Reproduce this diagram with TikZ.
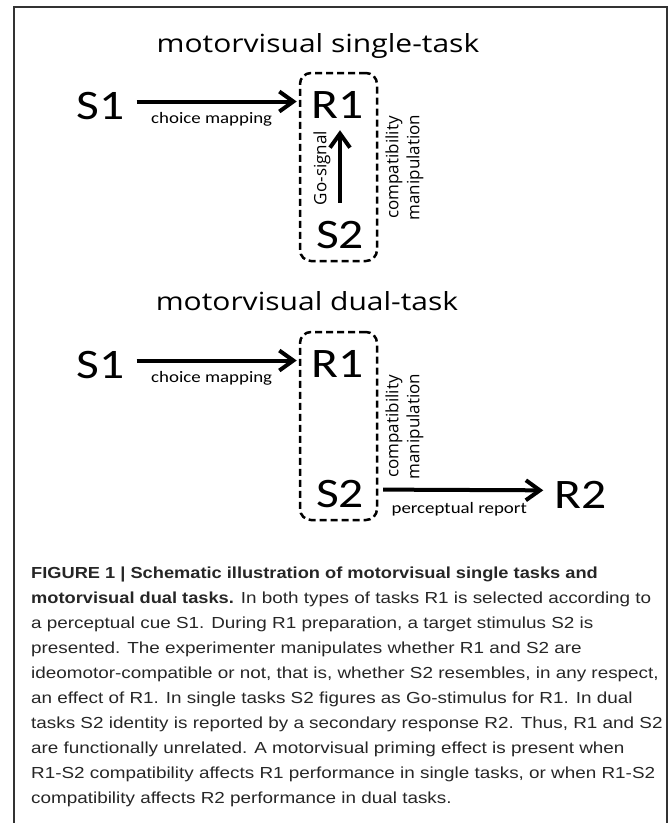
\documentclass[tikz,border=0pt]{standalone}
\usepackage{fontspec}
\setmainfont[FakeStretch=1.18]{Liberation Sans}
\newfontfamily\capbf[FakeStretch=1.14]{Liberation Sans Bold}
\newfontfamily\calib[FakeStretch=1.18]{Carlito}
\newfontfamily\segoe[FakeStretch=1.2]{Open Sans}
\newfontfamily\segoerot{Open Sans}
\usetikzlibrary{arrows.meta}

\begin{document}
\begin{tikzpicture}[x=1pt,y=-1pt,
  sym/.style={font=\calib\fontsize{42}{42}\selectfont,inner sep=0pt,anchor=base},
  lab/.style={font=\calib\fontsize{16}{16}\selectfont,inner sep=0pt},
  head/.style={font=\segoe\fontsize{25}{25}\selectfont,inner sep=0pt,anchor=base},
  side/.style={font=\segoerot\fontsize{17}{21}\selectfont,rotate=90,align=center,inner sep=0pt},
  link/.style={line width=4pt,-{Straight Barb[length=14pt,width=20pt]}},
  group/.style={draw,line width=2.5pt,dash pattern=on 7pt off 4pt,rounded corners=11pt,minimum width=77pt,minimum height=188pt}]
\useasboundingbox (0,0) rectangle (671,823);
\draw[line width=1.5pt,black!80] (14,823) -- (14,7) -- (667,7) -- (667,823); % frame
% single task
\node[head] (ttla) at (318,52) {motorvisual single-task};
\node[group] (boxa) at (338.5,167) {};
\node[sym] (s1a) at (100.5,119) {S1};
\node[sym] (r1a) at (337.5,118) {R1};
\node[sym] (s2a) at (340,248) {S2};
\draw[link,shorten <=12pt,shorten >=2pt] ([yshift=4pt]s1a.east) -- ([yshift=4pt]s1a.east -| boxa.west) node[lab,midway,below=9pt] (mapa) {choice mapping};
\draw[link,shorten <=18pt,shorten >=12pt] (s2a.north) -- (s2a.north |- r1a.south); % go arrow
\node[side] (gosig) at (322,168) {Go-signal};
\node[side] (compa) at (404.5,167.5) {compatibility\\manipulation};
% dual task
\node[head] (ttlb) at (307,310) {motorvisual dual-task};
\node[group] (boxb) at (338.5,426) {};
\node[sym] (s1b) at (100.5,378) {S1};
\node[sym] (r1b) at (337.5,377) {R1};
\node[sym] (s2b) at (340,507) {S2};
\node[sym] (r2b) at (580.5,508) {R2};
\draw[link,shorten <=12pt,shorten >=2pt] ([yshift=4pt]s1b.east) -- ([yshift=4pt]s1b.east -| boxb.west) node[lab,midway,below=9pt] (mapb) {choice mapping};
\draw[link,shorten <=19pt,shorten >=11pt] ([yshift=4pt]s2b.east) -- ([yshift=4pt]r2b.west) node[lab,midway,below=10pt] (repb) {perceptual report};
\node[side] (compb) at (404.5,426.5) {compatibility\\manipulation};
% caption
\node[anchor=north west,inner sep=0pt,align=left,font=\fontsize{16}{25}\selectfont,text=black!85] (capt) at (31,567) {{\capbf FIGURE 1 | Schematic illustration of motorvisual single tasks and}\\
{\capbf motorvisual dual tasks.} In both types of tasks R1 is selected according to\\
a perceptual cue S1. During R1 preparation, a target stimulus S2 is\\
presented. The experimenter manipulates whether R1 and S2 are\\
ideomotor-compatible or not, that is, whether S2 resembles, in any respect,\\
an effect of R1. In single tasks S2 figures as Go-stimulus for R1. In dual\\
tasks S2 identity is reported by a secondary response R2. Thus, R1 and S2\\
are functionally unrelated. A motorvisual priming effect is present when\\
R1-S2 compatibility affects R1 performance in single tasks, or when R1-S2\\
compatibility affects R2 performance in dual tasks.};
\end{tikzpicture}
\end{document}
